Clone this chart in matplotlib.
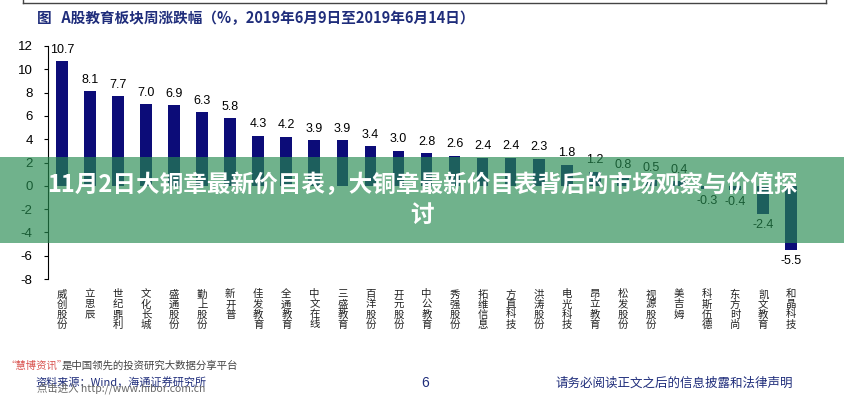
import matplotlib.pyplot as plt
from matplotlib.patches import Rectangle
from matplotlib.lines import Line2D

plt.rcParams['font.family'] = ['Liberation Sans', 'Noto Sans CJK SC', 'DejaVu Sans']

# data
stocks = ['威创股份', '立思辰', '世纪鼎利', '文化长城', '盛通股份', '勤上股份', '新开普',
          '佳发教育', '全通教育', '中文在线', '三盛教育', '百洋股份', '开元股份', '中公教育',
          '秀强股份', '拓维信息', '方直科技', '洪涛股份', '电光科技', '昂立教育', '松发股份',
          '视源股份', '美吉姆', '科斯伍德', '东方时尚', '凯文教育', '和晶科技']
change = [10.7, 8.1, 7.7, 7.0, 6.9, 6.3, 5.8, 4.3, 4.2, 3.9, 3.9, 3.4, 3.0, 2.8,
          2.6, 2.4, 2.4, 2.3, 1.8, 1.2, 0.8, 0.5, 0.4, -0.3, -0.4, -2.4, -5.5]
yticks = [-8, -6, -4, -2, 0, 2, 4, 6, 8, 10, 12]

title = '图   A股教育板块周涨跌幅（%，2019年6月9日至2019年6月14日）'
banner1 = '11月2日大铜章最新价目表，大铜章最新价目表背后的市场观察与价值探'
banner2 = '讨'

fig = plt.figure(figsize=(8.44, 4.0), dpi=100)
ax = fig.add_axes([48 / 844, 1 - 279 / 400, 757 / 844, 233 / 400])

x = list(range(len(stocks)))
ax.bar(x, change, width=0.42, color='#0c0c78')

for i, v in enumerate(change):
    if v >= 0:
        ax.annotate('%.1f' % v, (i, v), xytext=(0, 4), textcoords='offset points',
                    ha='center', va='bottom', fontsize=9)
    else:
        ax.annotate('%.1f' % v, (i, v), xytext=(0, -4), textcoords='offset points',
                    ha='center', va='top', fontsize=9)

ax.set_xlim(-0.5, len(stocks) - 0.5)
ax.set_ylim(-8, 12)
ax.set_yticks(yticks)
ax.set_yticklabels([str(t) for t in yticks], fontsize=9.5)
ax.tick_params(axis='y', direction='out', length=3, pad=8, width=0.8)
ax.set_xticks([])
for s in ['top', 'right', 'bottom']:
    ax.spines[s].set_visible(False)
ax.spines['left'].set_linewidth(0.8)

# vertical category labels under the chart
for i, name in enumerate(stocks):
    ax.text(i, -8.9, '\n'.join(name), ha='center', va='top', fontsize=7.5,
            linespacing=1.0, color='#222222', family=['Noto Sans CJK SC'])

# frame line at the top
fig.add_artist(Line2D([23 / 844, 826 / 844], [1 - 3 / 400, 1 - 3 / 400], color='#444444', lw=1))
fig.add_artist(Line2D([23 / 844, 23 / 844], [1, 1 - 3 / 400], color='#444444', lw=1))
fig.add_artist(Line2D([826 / 844, 826 / 844], [1, 1 - 3 / 400], color='#444444', lw=1))

fig.text(37 / 844, 1 - 18 / 400, title, fontsize=10.5, fontweight='bold', color='#1f2d7b',
         va='center', ha='left', family=['Noto Sans CJK SC'])

# footer
fig.text(5 / 844, 1 - 366 / 400, '“慧博资讯”', fontsize=7.5, color='#d9534f', va='center',
         family=['Noto Sans CJK SC'])
fig.text(62 / 844, 1 - 366 / 400, '是中国领先的投资研究大数据分享平台', fontsize=7.5, color='#444444',
         va='center', family=['Noto Sans CJK SC'])
fig.text(35 / 844, 1 - 382 / 400, '资料来源：Wind，海通证券研究所', fontsize=8, color='#1f2d7b',
         va='center', family=['Noto Sans CJK SC'])
fig.text(37 / 844, 1 - 388 / 400, '点击进入 http://www.hibor.com.cn', fontsize=7.5, color='#666666',
         va='center', family=['Noto Sans CJK SC'])
fig.text(425 / 844, 1 - 383 / 400, '6', fontsize=10, color='#1f2d7b', va='center', ha='center')
fig.text(555 / 844, 1 - 383 / 400, '请务必阅读正文之后的信息披露和法律声明', fontsize=9, color='#1f2d7b',
         va='center', family=['Noto Sans CJK SC'])

# green banner over the chart
fig.add_artist(Rectangle((0, 1 - 243 / 400), 1, 86 / 400, transform=fig.transFigure,
                         facecolor='#268b50', alpha=0.66, edgecolor='none', zorder=10))
fig.text(0.5, 1 - 185 / 400, banner1, fontsize=17, fontweight='bold', color='white',
         ha='center', va='center', zorder=11, family=['Noto Sans CJK SC'])
fig.text(0.5, 1 - 215 / 400, banner2, fontsize=17, fontweight='bold', color='white',
         ha='center', va='center', zorder=11, family=['Noto Sans CJK SC'])

fig.savefig('out.png', dpi=100)
